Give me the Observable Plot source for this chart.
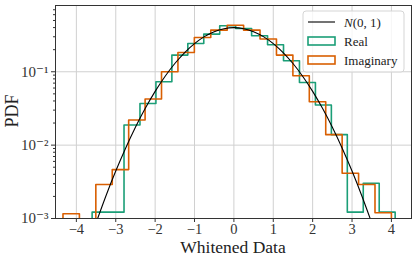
<!DOCTYPE html>
<html><head><meta charset="utf-8">
<script src="https://cdn.jsdelivr.net/npm/d3@7"></script>
<script src="https://cdn.jsdelivr.net/npm/@observablehq/plot@0.6"></script>
<style>body{margin:0;background:#fff} svg{display:block} svg text{font-family:'Liberation Serif','DejaVu Serif',serif !important}</style>
</head><body><div id="chart"></div>
<script>
// Histogram bin edges and densities
const realEdges = [-3.60,-3.195,-2.79,-2.385,-1.98,-1.575,-1.17,-0.765,-0.36,0.045,0.45,0.855,1.26,1.665,2.07,2.475,2.88,3.285,3.69,4.095];
const realDensity = [0.00122,0.00122,0.0188,0.037,0.0731,0.1686,0.2426,0.326,0.423,0.388,0.309,0.233,0.141,0.0714,0.0352,0.0139,0.00122,0.00302,0.00122];
const imagEdges = [-4.34,-3.923,-3.506,-3.089,-2.672,-2.255,-1.838,-1.421,-1.004,-0.587,-0.17,0.247,0.664,1.081,1.498,1.915,2.332,2.749,3.166,3.583,4.0];
const imagDensity = [0.00116,0,0.0029,0.00464,0.0220,0.0426,0.100,0.183,0.293,0.369,0.431,0.369,0.279,0.1686,0.0883,0.0391,0.0139,0.00413,0.0029,0.0012];
// N(0,1) density samples
const normX = [-3.5,-3.25,-3,-2.75,-2.5,-2.25,-2,-1.75,-1.5,-1.25,-1,-0.75,-0.5,-0.25,0,0.25,0.5,0.75,1,1.25,1.5,1.75,2,2.25,2.5,2.75,3,3.25,3.5];
const normY = [0.000873,0.002029,0.004432,0.00909,0.01753,0.03174,0.05399,0.08628,0.12952,0.18265,0.24197,0.30114,0.35207,0.38667,0.39894,0.38667,0.35207,0.30114,0.24197,0.18265,0.12952,0.08628,0.05399,0.03174,0.01753,0.00909,0.004432,0.002029,0.000873];
// Ticks and labels
const xTicks = [-4,-3,-2,-1,0,1,2,3,4];
const yMajor = [1e-3,1e-2,1e-1];
const yMajorLabels = ["10⁻³","10⁻²","10⁻¹"];
const yMinor = [2e-3,3e-3,4e-3,5e-3,6e-3,7e-3,8e-3,9e-3,2e-2,3e-2,4e-2,5e-2,6e-2,7e-2,8e-2,9e-2,2e-1,3e-1,4e-1,5e-1,6e-1,7e-1];
const seriesNames = ["Real","Imaginary"];
const seriesColors = ["#1b9e77","#d95f02"];
const curveName = "N(0, 1)";
const xLabel = "Whitened Data";
const yLabel = "PDF";

const FLOOR = 1e-6;
function stepPoints(edges, dens) {
  const pts = [{x: edges[0], y: FLOOR}];
  dens.forEach((d, i) => pts.push({x: edges[i], y: d > 0 ? d : FLOOR}));
  pts.push({x: edges[edges.length-1], y: dens[dens.length-1] > 0 ? dens[dens.length-1] : FLOOR});
  pts.push({x: edges[edges.length-1], y: FLOOR});
  return pts;
}
const realPts = stepPoints(realEdges, realDensity);
const imagPts = stepPoints(imagEdges, imagDensity);
const normPts = normX.map((x, i) => ({x, y: normY[i]}));
const fmtX = d => d < 0 ? "−" + Math.abs(d) : String(d);
const fmtY = d => yMajorLabels[yMajor.findIndex(v => Math.abs(v - d) < v * 1e-6)] ?? "";

const plot = Plot.plot({
  width: 416, height: 260,
  marginLeft: 55, marginRight: 5, marginTop: 5, marginBottom: 42,
  style: {fontFamily: "'Liberation Serif', 'DejaVu Serif', serif", fontSize: "14px", color: "#333", background: "#fff"},
  x: {domain: [-4.53, 4.51]},
  y: {type: "log", domain: [1e-3, 0.8]},
  marks: [
    Plot.gridX(xTicks, {stroke: "#d0d0d0", strokeOpacity: 1, strokeWidth: 1}),
    Plot.gridY(yMajor, {stroke: "#d0d0d0", strokeOpacity: 1, strokeWidth: 1}),
    Plot.line(realPts, {x: "x", y: "y", curve: "step-after", stroke: seriesColors[0], strokeWidth: 1.6, clip: true}),
    Plot.line(imagPts, {x: "x", y: "y", curve: "step-after", stroke: seriesColors[1], strokeWidth: 1.6, clip: true}),
    Plot.line(normPts, {x: "x", y: "y", curve: "natural", stroke: "#000", strokeWidth: 1.1, clip: true}),
    Plot.frame({stroke: "#333", strokeWidth: 1}),
    Plot.axisX(xTicks, {tickSize: 4, tickPadding: 1, tickFormat: fmtX, label: null, fontSize: 14.5}),
    Plot.axisY(yMinor, {tickSize: 2, tickFormat: () => "", label: null}),
    Plot.axisY(yMajor, {tickSize: 4, tickPadding: 3, tickFormat: fmtY, label: null, fontSize: 15})
  ]
});
document.getElementById("chart").appendChild(plot);

const svg = d3.select(plot);
svg.append("text").attr("x", 233).attr("y", 253).attr("text-anchor", "middle")
  .style("font-size", "17.5px").attr("fill", "#222").text(xLabel);
svg.append("text").attr("transform", "translate(18,111) rotate(-90)").attr("text-anchor", "middle")
  .style("font-size", "18px").attr("fill", "#222").text(yLabel);

// Legend
const lg = svg.append("g").attr("fill", "#222").attr("text-anchor", "start");
lg.append("rect").attr("x", 303).attr("y", 11).attr("width", 101).attr("height", 61).attr("rx", 3)
  .attr("fill", "#fff").attr("fill-opacity", 0.8).attr("stroke", "#d5d5d5");
lg.append("line").attr("x1", 308).attr("x2", 335).attr("y1", 22).attr("y2", 22).attr("stroke", "#000").attr("stroke-width", 1.1);
const t0 = lg.append("text").attr("x", 344).attr("y", 27).attr("text-anchor", "start").style("font-size", "13px");
t0.append("tspan").attr("font-style", "italic").text(curveName.slice(0, 1));
t0.append("tspan").text(curveName.slice(1));
seriesNames.forEach((name, i) => {
  const y = 37 + i * 19;
  lg.append("rect").attr("x", 308).attr("y", y).attr("width", 27).attr("height", 8)
    .attr("fill", "none").attr("stroke", seriesColors[i]).attr("stroke-width", 1.6);
  lg.append("text").attr("x", 344).attr("y", y + 9).attr("text-anchor", "start").style("font-size", "13px").text(name);
});
</script>
</body></html>
